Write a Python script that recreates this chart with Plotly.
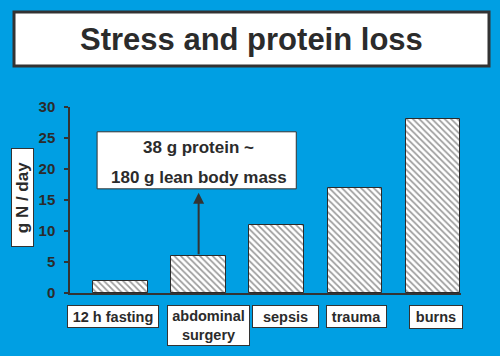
import plotly.graph_objects as go

# ---- data ----
categories = ["12 h fasting", "abdominal surgery", "sepsis", "trauma", "burns"]
cat_labels = ["12 h fasting", "abdominal<br>surgery", "sepsis", "trauma", "burns"]
values = [2, 6, 11, 17, 28]
y_ticks = [0, 5, 10, 15, 20, 25, 30]
title_text = "Stress and protein loss"
y_title = "g N / day"
note_lines = ["38 g protein ~", "180 g lean body mass"]
note_target = "abdominal surgery"

# ---- style ----
BG = "#009fe3"
DARK = "#2b2b2b"
FONT = "Liberation Sans, Arial, Helvetica, sans-serif"

fig = go.Figure()
fig.add_trace(go.Bar(
    x=list(range(len(categories))), y=values, width=0.70,
    marker=dict(color="white", line=dict(color=DARK, width=1),
                pattern=dict(shape="\\", fgcolor="#333333", bgcolor="white",
                             size=4.5, solidity=0.38)),
    hoverinfo="skip", showlegend=False,
))

# plot area geometry helpers (paper coords)
L, R, T, B = 70, 39, 107, 63
W, H = 500, 356
PW, PH = W - L - R, H - T - B
def px(xp):
    return (xp - L) / PW
def py(yp):
    return (H - B - yp) / PH

shapes = []
annotations = []

# title box
shapes.append(dict(type="rect", xref="paper", yref="paper",
                   x0=px(14), x1=px(489), y0=py(66), y1=py(12),
                   fillcolor="white", line=dict(color="#333333", width=3), layer="below"))
annotations.append(dict(xref="paper", yref="paper", x=px(251), y=py(39),
                        xanchor="center", yanchor="middle",
                        text=title_text, showarrow=False,
                        font=dict(family=FONT, size=31, color=DARK, weight="bold")))

# y-axis title box
annotations.append(dict(xref="paper", yref="paper", x=px(22.5), y=py(197.5),
                        xanchor="center", yanchor="middle",
                        text=y_title, showarrow=False, textangle=-90,
                        width=97, height=21, bgcolor="white", bordercolor="#333333",
                        borderwidth=1, borderpad=0,
                        font=dict(family=FONT, size=17, color=DARK, weight="bold")))

# category label boxes
box_w = [90, 81, 65, 59, 52]
box_h = [21, 39, 21, 21, 22]
shifts = [-8, 10, 9, 2, 3.5]
for i, lab in enumerate(cat_labels):
    annotations.append(dict(xref="x", yref="paper", x=i, y=py(305),
                            xanchor="center", yanchor="top",
                            xshift=shifts[i], text=lab, showarrow=False,
                            width=box_w[i], height=box_h[i], bgcolor="white",
                            bordercolor="#333333", borderwidth=1, borderpad=0,
                            font=dict(family=FONT, size=14.5, color=DARK, weight="bold")))

# note box + arrow
ti = categories.index(note_target)
shapes.append(dict(type="rect", xref="x", yref="y", x0=ti - 1.30, x1=ti + 1.25,
                   y0=16.8, y1=26.0, fillcolor="white",
                   line=dict(color="#333333", width=1)))
annotations.append(dict(xref="x", yref="y", x=ti, y=23.5, text=note_lines[0],
                        xanchor="center", yanchor="middle", showarrow=False,
                        font=dict(family=FONT, size=17, color=DARK, weight="bold")))
annotations.append(dict(xref="x", yref="y", x=ti, y=18.7, text=note_lines[1],
                        xanchor="center", yanchor="middle", showarrow=False,
                        font=dict(family=FONT, size=17, color=DARK, weight="bold")))
annotations.append(dict(xref="x", yref="y", x=ti, y=16.15, ax=ti, ay=values[ti],
                        axref="x", ayref="y", text="", showarrow=True,
                        arrowhead=2, arrowsize=1.1, arrowwidth=2, arrowcolor="#333333",
                        standoff=0, startstandoff=0))

fig.update_layout(
    width=W, height=H,
    margin=dict(l=L, r=R, t=T, b=B, pad=0),
    paper_bgcolor=BG, plot_bgcolor=BG,
    shapes=shapes, annotations=annotations,
    bargap=0,
    xaxis=dict(range=[-0.647, 4.359], showgrid=False, zeroline=False,
               showticklabels=False, ticks="", showline=True,
               linecolor="#333333", linewidth=1.5, fixedrange=True),
    yaxis=dict(range=[0, 30], tickvals=y_ticks, showgrid=False, zeroline=False,
               showline=True, linecolor="#333333", linewidth=1.5,
               ticks="outside", ticklen=4, tickcolor="#333333", tickwidth=1.5,
               tickfont=dict(family=FONT, size=15, color=DARK, weight="bold"),
               ticklabelstandoff=6, fixedrange=True),
    font=dict(family=FONT),
)

fig.write_html("out.html", config={"displayModeBar": False},
               post_script="document.body.style.margin='0';document.body.style.overflow='hidden';")
